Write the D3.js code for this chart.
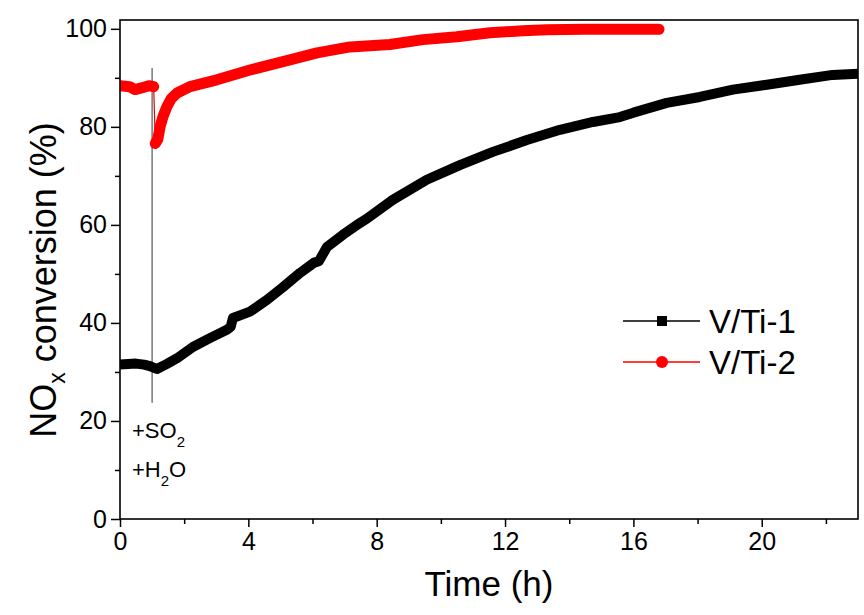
<!DOCTYPE html>
<html>
<head>
<meta charset="utf-8">
<script src="https://cdn.jsdelivr.net/npm/d3@7"></script>
<style>
  html, body { margin: 0; padding: 0; background: #fff; }
  svg { display: block; }
  text { font-family: "Liberation Sans", Arial, sans-serif; fill: #000; }
</style>
</head>
<body>
<svg id="chart" width="864" height="615"></svg>
<script>
// NOx conversion over time for two catalysts, SO2 + H2O added at 1 h
const timeV1 = [0, 0.25, 0.5, 0.75, 0.93, 1.15, 1.45, 1.78, 2.27, 2.8, 3.33, 3.45, 3.52, 4.05, 4.58, 5.08, 5.61, 6.05, 6.2, 6.45, 6.95, 7.48, 7.7, 8.5, 9.56, 10.59, 11.62, 12.68, 13.71, 14.74, 15.58, 16.0, 17.04, 18.07, 19.1, 20.16, 21.18, 22.21, 22.96];
const valuesV1 = [31.5, 31.6, 31.7, 31.5, 31.2, 30.6, 31.6, 32.8, 35.1, 36.9, 38.6, 39.2, 41.0, 42.3, 44.7, 47.3, 50.2, 52.3, 52.6, 55.5, 58.0, 60.4, 61.3, 65.1, 69.2, 72.2, 74.9, 77.3, 79.4, 81.0, 82.0, 82.9, 84.9, 86.1, 87.6, 88.6, 89.6, 90.6, 90.8];

const timeV2 = [0, 0.3, 0.47, 0.7, 0.9, 1.05, 1.1, 1.18, 1.25, 1.35, 1.46, 1.6, 1.78, 2.18, 3.02, 4.05, 5.08, 6.14, 7.17, 8.41, 9.44, 10.5, 11.53, 12.55, 13.3, 14.5, 15.5, 16.8];
const valuesV2 = [88.4, 88.2, 87.6, 88.0, 88.4, 88.2, 76.6, 77.5, 80.0, 82.3, 84.1, 85.8, 86.9, 88.2, 89.6, 91.6, 93.3, 95.1, 96.3, 96.8, 97.8, 98.4, 99.2, 99.6, 99.8, 99.9, 99.9, 99.9];

const seriesNames = ["V/Ti-1", "V/Ti-2"];
const xMajorTicks = [0, 4, 8, 12, 16, 20];
const xMinorTicks = [2, 6, 10, 14, 18, 22];
const yMajorTicks = [0, 20, 40, 60, 80, 100];
const yMinorTicks = [10, 30, 50, 70, 90];
const gasSwitchTime = 1.0;
const gasMarkerRange = [23.7, 92];

const svg = d3.select("#chart");
const plotLeft = 120, plotRight = 858, plotTop = 20, plotBottom = 519;

const x = d3.scaleLinear().domain([0, 23]).range([plotLeft, plotRight]);
const y = d3.scaleLinear().domain([0, 101.8]).range([plotBottom, plotTop]);

const v1 = timeV1.map((t, i) => ({ t, v: valuesV1[i] }));
const v2 = timeV2.map((t, i) => ({ t, v: valuesV2[i] }));

const line = d3.line().x(d => x(d.t)).y(d => y(d.v));

// keep the traces inside the frame
svg.append("defs").append("clipPath").attr("id", "plot-clip")
  .append("rect")
  .attr("x", plotLeft).attr("y", plotTop)
  .attr("width", plotRight - plotLeft).attr("height", plotBottom - plotTop);
const plot = svg.append("g").attr("clip-path", "url(#plot-clip)");

// gas switch marker
plot.append("line")
  .attr("x1", x(gasSwitchTime)).attr("x2", x(gasSwitchTime))
  .attr("y1", y(gasMarkerRange[1])).attr("y2", y(gasMarkerRange[0]))
  .attr("stroke", "#333").attr("stroke-width", 1);

// V/Ti-1: continuous thick trace of dense square symbols
plot.append("path").datum(v1)
  .attr("d", line)
  .attr("fill", "none").attr("stroke", "#000")
  .attr("stroke-width", 10).attr("stroke-linejoin", "round").attr("stroke-linecap", "square");

// V/Ti-2: thin connector, then symbol bands before and after the switch
plot.append("path").datum(v2)
  .attr("d", line)
  .attr("fill", "none").attr("stroke", "#e60000").attr("stroke-width", 1.2);
const v2Before = v2.filter(d => d.t < 1.08);
const v2After = v2.filter(d => d.t >= 1.08);
[v2Before, v2After].forEach(seg => {
  plot.append("path").datum(seg)
    .attr("d", line)
    .attr("fill", "none").attr("stroke", "#ff0000")
    .attr("stroke-width", 11).attr("stroke-linejoin", "round").attr("stroke-linecap", "round");
});

// frame
svg.append("rect")
  .attr("x", plotLeft).attr("y", plotTop)
  .attr("width", plotRight - plotLeft).attr("height", plotBottom - plotTop)
  .attr("fill", "none").attr("stroke", "#000").attr("stroke-width", 1.6);

// x axis
const xAxis = svg.append("g").attr("transform", `translate(0,${plotBottom})`);
xAxis.call(d3.axisBottom(x).tickValues(xMajorTicks).tickSize(8).tickSizeOuter(0).tickPadding(5));
xAxis.append("g").call(d3.axisBottom(x).tickValues(xMinorTicks).tickSize(5).tickSizeOuter(0).tickFormat(""));
xAxis.selectAll(".domain").remove();
xAxis.selectAll("line").attr("stroke", "#000").attr("stroke-width", 1.5);
xAxis.selectAll("text").attr("font-size", 25).attr("font-family", "Liberation Sans, Arial, sans-serif");

// y axis
const yAxis = svg.append("g").attr("transform", `translate(${plotLeft},0)`);
yAxis.call(d3.axisLeft(y).tickValues(yMajorTicks).tickSize(9).tickSizeOuter(0).tickPadding(4));
yAxis.append("g").call(d3.axisLeft(y).tickValues(yMinorTicks).tickSize(5).tickSizeOuter(0).tickFormat(""));
yAxis.selectAll(".domain").remove();
yAxis.selectAll("line").attr("stroke", "#000").attr("stroke-width", 1.5);
yAxis.selectAll("text").attr("font-size", 25).attr("font-family", "Liberation Sans, Arial, sans-serif");

// axis titles
svg.append("text")
  .attr("x", 489).attr("y", 596)
  .attr("text-anchor", "middle").attr("font-size", 35)
  .text("Time (h)");

const yTitle = svg.append("text")
  .attr("transform", `translate(56,280) rotate(-90)`)
  .attr("text-anchor", "middle").attr("font-size", 36);
yTitle.append("tspan").text("NO");
yTitle.append("tspan").attr("font-size", 23).attr("dy", 9).text("x");
yTitle.append("tspan").attr("dy", -9).text(" conversion (%)");

// gas annotation
const ann = svg.append("g").attr("font-size", 22);
const so2 = ann.append("text").attr("x", 132).attr("y", 438);
so2.append("tspan").text("+SO");
so2.append("tspan").attr("font-size", 15).attr("dy", 9).text("2");
const h2o = ann.append("text").attr("x", 132).attr("y", 477);
h2o.append("tspan").text("+H");
h2o.append("tspan").attr("font-size", 15).attr("dy", 9).text("2");
h2o.append("tspan").attr("dy", -9).text("O");

// legend
const legend = svg.append("g");
const legendRows = [
  { name: seriesNames[0], color: "#000", shape: "square", yPos: 321 },
  { name: seriesNames[1], color: "#ff0000", shape: "circle", yPos: 362 }
];
legendRows.forEach(r => {
  legend.append("line")
    .attr("x1", 623).attr("x2", 700).attr("y1", r.yPos).attr("y2", r.yPos)
    .attr("stroke", r.color).attr("stroke-width", 1.3);
  if (r.shape === "square") {
    legend.append("rect").attr("x", 657).attr("y", r.yPos - 5).attr("width", 10).attr("height", 10).attr("fill", r.color);
  } else {
    legend.append("circle").attr("cx", 662).attr("cy", r.yPos).attr("r", 6).attr("fill", r.color);
  }
  legend.append("text").attr("x", 709).attr("y", r.yPos + 12).attr("font-size", 33).text(r.name);
});
</script>
</body>
</html>
